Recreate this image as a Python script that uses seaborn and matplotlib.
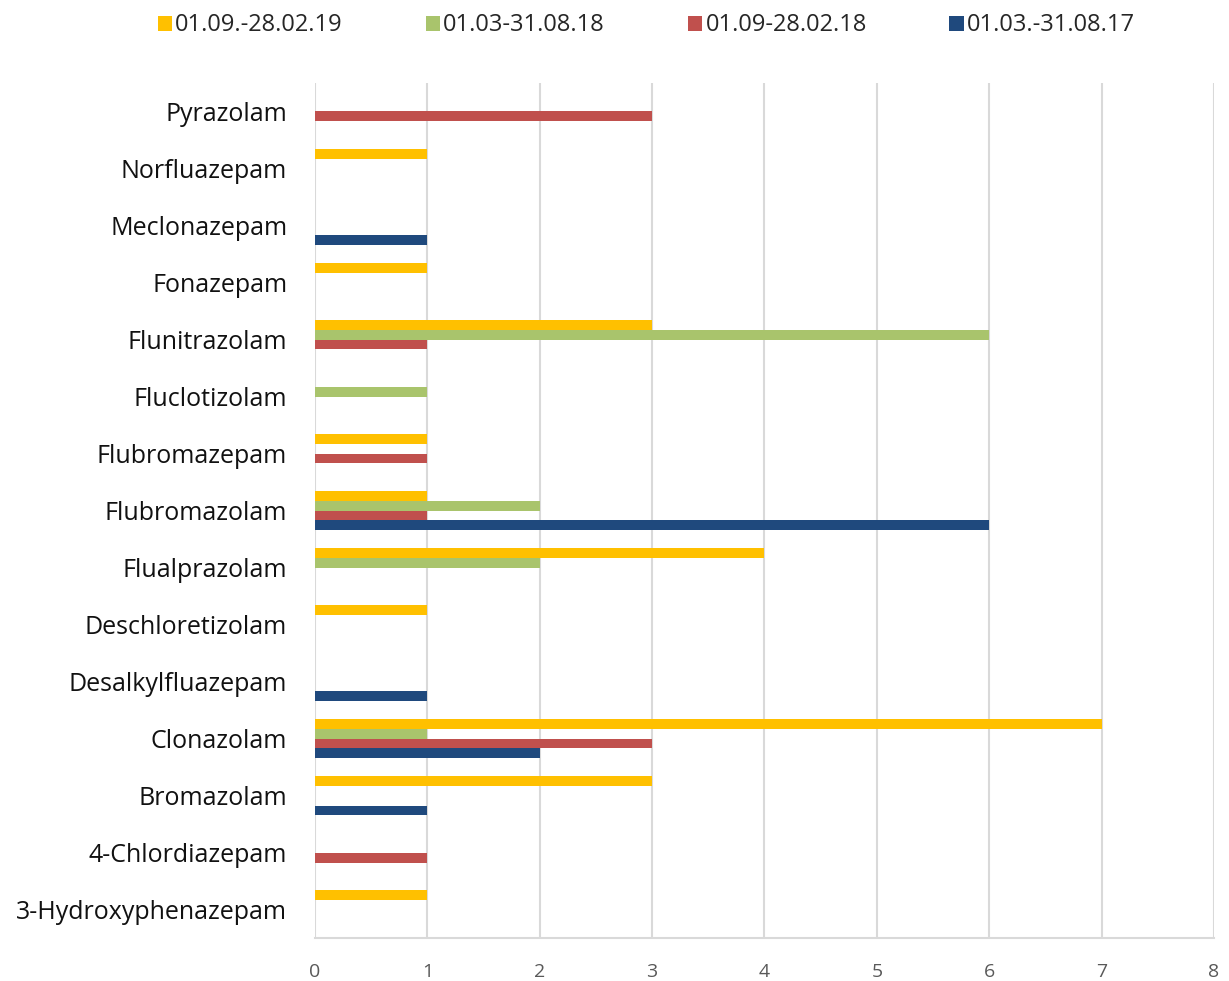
import seaborn as sns
import pandas as pd
from matplotlib import pyplot as plt

# categories top to bottom
substances = ['Pyrazolam', 'Norfluazepam', 'Meclonazepam', 'Fonazepam', 'Flunitrazolam',
              'Fluclotizolam', 'Flubromazepam', 'Flubromazolam', 'Flualprazolam',
              'Deschloretizolam', 'Desalkylfluazepam', 'Clonazolam', 'Bromazolam',
              '4-Chlordiazepam', '3-Hydroxyphenazepam']
periods = ['01.09.-28.02.19', '01.03-31.08.18', '01.09-28.02.18', '01.03.-31.08.17']

p_2019 = [0, 1, 0, 1, 3, 0, 1, 1, 4, 1, 0, 7, 3, 0, 1]
p_2018b = [0, 0, 0, 0, 6, 1, 0, 2, 2, 0, 0, 1, 0, 0, 0]
p_2018a = [3, 0, 0, 0, 1, 0, 1, 1, 0, 0, 0, 3, 0, 1, 0]
p_2017 = [0, 0, 1, 0, 0, 0, 0, 6, 0, 0, 1, 2, 1, 0, 0]

colors = ['#FFC000', '#A9C46C', '#C0504D', '#1F497D']

rows = []
for per, vals in zip(periods, [p_2019, p_2018b, p_2018a, p_2017]):
    for s, v in zip(substances, vals):
        rows.append({'substance': s, 'period': per, 'count': v})
df = pd.DataFrame(rows)

sns.set_style('white')
plt.rcParams['font.family'] = ['Open Sans', 'DejaVu Sans']

fig = plt.figure(figsize=(12.29, 9.81), dpi=100)
ax = fig.add_axes([0.2563, 0.0438, 0.7315, 0.8716])

sns.barplot(data=df, y='substance', x='count', hue='period', hue_order=periods,
            order=substances, palette=colors, saturation=1, orient='h', width=0.7,
            linewidth=0, ax=ax, legend=True)

ax.set_xlim(0, 8)
ax.set_ylim(len(substances) - 0.5, -0.5)
ax.set_xticks(range(9))
ax.xaxis.grid(True, color='#D9D9D9', linewidth=1.5)
ax.set_axisbelow(True)
for side in ['top', 'right', 'left']:
    ax.spines[side].set_visible(False)
ax.spines['bottom'].set_color('#D9D9D9')
ax.spines['bottom'].set_linewidth(1.5)
ax.set_xlabel('')
ax.set_ylabel('')
ax.tick_params(axis='x', labelsize=14, labelcolor='#595959', length=0, pad=18)
ax.tick_params(axis='y', labelsize=18, labelcolor='#111111', length=0, pad=20)

handles, labels = ax.get_legend_handles_labels()
ax.get_legend().remove()
fig.legend(handles, labels, loc='upper center', bbox_to_anchor=(0.526, 1.008), ncol=4,
           frameon=False, fontsize=17, handlelength=0.6, handleheight=0.6,
           handletextpad=0.15, columnspacing=3.5)

plt.savefig('out.png')
